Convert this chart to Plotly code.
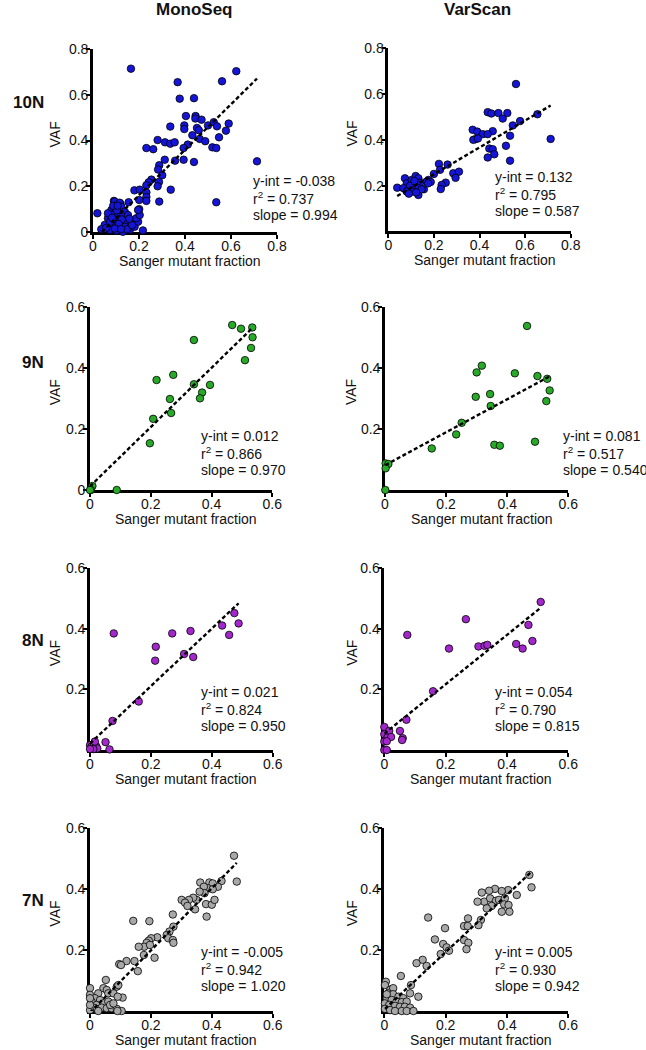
import plotly.graph_objects as go

W, H = 646, 1050
FONT = "Liberation Sans, Arial, sans-serif"

# ---------------- data ----------------
columns = ["MonoSeq", "VarScan"]
rows = ["10N", "9N", "8N", "7N"]

mono10_x = [0.165, 0.623, 0.368, 0.561, 0.377, 0.439, 0.404, 0.446, 0.445, 0.472, 0.336, 0.397, 0.397, 0.452, 0.46,
            0.50, 0.525, 0.539, 0.59, 0.578, 0.432, 0.464, 0.488, 0.548, 0.281, 0.313, 0.336, 0.355, 0.412, 0.394,
            0.519, 0.536, 0.232, 0.262, 0.439, 0.357, 0.394, 0.312, 0.288, 0.283, 0.301, 0.287, 0.281, 0.254, 0.242,
            0.232, 0.338, 0.180, 0.203, 0.232, 0.232, 0.232, 0.288, 0.536, 0.713, 0.091, 0.155, 0.119, 0.201, 0.201,
            0.217, 0.019, 0.094, 0.116, 0.080, 0.097, 0.123, 0.138, 0.087, 0.109, 0.130, 0.152, 0.065, 0.094, 0.116,
            0.145, 0.167, 0.051, 0.080, 0.109, 0.138, 0.036, 0.073, 0.101, 0.130, 0.160, 0.181, 0.196, 0.188, 0.203,
            0.196, 0.065, 0.104, 0.088, 0.125, 0.075, 0.058, 0.112, 0.148, 0.095, 0.170, 0.122, 0.083, 0.158, 0.107]
mono10_y = [0.714, 0.703, 0.655, 0.659, 0.583, 0.585, 0.507, 0.507, 0.496, 0.491, 0.461, 0.466, 0.450, 0.455, 0.445,
            0.466, 0.480, 0.462, 0.474, 0.443, 0.423, 0.407, 0.397, 0.414, 0.402, 0.392, 0.386, 0.392, 0.382, 0.367,
            0.370, 0.367, 0.367, 0.362, 0.306, 0.312, 0.316, 0.316, 0.292, 0.273, 0.248, 0.219, 0.200, 0.229, 0.217,
            0.204, 0.185, 0.182, 0.185, 0.173, 0.153, 0.136, 0.133, 0.130, 0.309, 0.136, 0.130, 0.124, 0.140, 0.100,
            0.007, 0.082, 0.133, 0.128, 0.096, 0.104, 0.111, 0.089, 0.074, 0.082, 0.067, 0.074, 0.060, 0.052, 0.045,
            0.045, 0.045, 0.031, 0.031, 0.023, 0.023, 0.012, 0.009, 0.006, 0.001, 0.009, 0.023, 0.045, 0.060, 0.074,
            0.096, 0.082, 0.095, 0.115, 0.055, 0.045, 0.018, 0.035, 0.012, 0.015, 0.030, 0.013, 0.062, 0.058, 0.115]

var10_x = [0.560, 0.654, 0.578, 0.436, 0.452, 0.483, 0.522, 0.502, 0.546, 0.370, 0.390, 0.458, 0.414, 0.436, 0.382,
           0.373, 0.393, 0.534, 0.712, 0.443, 0.458, 0.516, 0.465, 0.436, 0.534, 0.222, 0.260, 0.227, 0.200, 0.285,
           0.310, 0.295, 0.252, 0.234, 0.230, 0.176, 0.186, 0.156, 0.039, 0.073, 0.081, 0.066, 0.088, 0.103, 0.120,
           0.132, 0.110, 0.125, 0.139, 0.095, 0.117, 0.132, 0.103, 0.132, 0.081, 0.146, 0.168, 0.175, 0.115, 0.090,
           0.122]
var10_y = [0.644, 0.512, 0.482, 0.521, 0.515, 0.517, 0.517, 0.493, 0.463, 0.444, 0.436, 0.438, 0.425, 0.425, 0.403,
           0.400, 0.406, 0.418, 0.404, 0.362, 0.359, 0.374, 0.337, 0.323, 0.309, 0.295, 0.292, 0.269, 0.251, 0.254,
           0.261, 0.234, 0.213, 0.203, 0.185, 0.225, 0.216, 0.184, 0.191, 0.232, 0.210, 0.189, 0.181, 0.225, 0.242,
           0.232, 0.203, 0.210, 0.213, 0.199, 0.184, 0.189, 0.174, 0.159, 0.174, 0.184, 0.218, 0.210, 0.220, 0.165,
           0.170]

mono9_x = [0.468, 0.497, 0.534, 0.535, 0.530, 0.510, 0.342, 0.274, 0.219, 0.342, 0.395, 0.369, 0.362, 0.263, 0.267,
           0.208, 0.197, 0.008, 0.003, 0.0, 0.088]
mono9_y = [0.540, 0.528, 0.532, 0.500, 0.465, 0.425, 0.491, 0.377, 0.360, 0.346, 0.344, 0.319, 0.300, 0.298, 0.252,
           0.233, 0.153, 0.013, 0.0, 0.0, 0.0]

var9_x = [0.465, 0.317, 0.300, 0.425, 0.499, 0.531, 0.539, 0.528, 0.344, 0.297, 0.346, 0.251, 0.233, 0.153, 0.358,
          0.376, 0.491, 0.002, 0.011, 0.002, 0.001]
var9_y = [0.537, 0.407, 0.385, 0.382, 0.373, 0.364, 0.326, 0.291, 0.314, 0.305, 0.275, 0.220, 0.182, 0.136, 0.148,
          0.145, 0.158, 0.087, 0.085, 0.071, 0.0]

mono8_x = [0.474, 0.488, 0.434, 0.457, 0.078, 0.270, 0.330, 0.216, 0.214, 0.309, 0.339, 0.160, 0.074, 0.051, 0.064,
           0.0, 0.005, 0.013, 0.020, 0.024, 0.011, 0.0, 0.016]
mono8_y = [0.452, 0.418, 0.411, 0.380, 0.385, 0.385, 0.393, 0.341, 0.295, 0.317, 0.307, 0.160, 0.096, 0.026, 0.002,
           0.016, 0.011, 0.020, 0.013, 0.005, 0.003, 0.003, 0.028]

var8_x = [0.510, 0.266, 0.470, 0.075, 0.483, 0.430, 0.451, 0.211, 0.307, 0.327, 0.336, 0.159, 0.072, 0.051, 0.060,
          0.058, 0.0, 0.0, 0.016, 0.010, 0.022, 0.0, 0.008, 0.0, 0.008]
var8_y = [0.489, 0.432, 0.413, 0.380, 0.360, 0.350, 0.335, 0.335, 0.342, 0.344, 0.347, 0.194, 0.100, 0.063, 0.039,
          0.033, 0.076, 0.052, 0.063, 0.041, 0.043, 0.028, 0.029, 0.0, 0.0]

mono7_x = [0.473, 0.482, 0.432, 0.420, 0.362, 0.392, 0.403, 0.387, 0.374, 0.403, 0.376, 0.350, 0.339, 0.325, 0.301,
           0.312, 0.320, 0.345, 0.381, 0.400, 0.409, 0.383, 0.360, 0.142, 0.195, 0.272, 0.274, 0.261, 0.252, 0.257,
           0.272, 0.274, 0.221, 0.201, 0.193, 0.186, 0.178, 0.160, 0.197, 0.212, 0.177, 0.146, 0.157, 0.120, 0.096,
           0.102, 0.107, 0.052, 0.0, 0.044, 0.055, 0.060, 0.088, 0.093, 0.077, 0.091, 0.027, 0.0, 0.016, 0.005,
           0.033, 0.044, 0.060, 0.022, 0.011, 0.038, 0.055, 0.071, 0.088, 0.104, 0.0, 0.027, 0.0, 0.0, 0.066,
           0.077, 0.090]
mono7_y = [0.510, 0.425, 0.427, 0.408, 0.422, 0.422, 0.419, 0.403, 0.408, 0.400, 0.387, 0.365, 0.372, 0.365, 0.365,
           0.356, 0.345, 0.334, 0.351, 0.349, 0.365, 0.310, 0.392, 0.296, 0.295, 0.317, 0.277, 0.261, 0.250, 0.239,
           0.233, 0.224, 0.242, 0.239, 0.231, 0.224, 0.211, 0.211, 0.217, 0.175, 0.184, 0.164, 0.131, 0.164, 0.154,
           0.151, 0.044, 0.102, 0.075, 0.075, 0.069, 0.058, 0.080, 0.085, 0.058, 0.047, 0.058, 0.053, 0.042, 0.031,
           0.036, 0.025, 0.031, 0.020, 0.011, 0.011, 0.009, 0.009, 0.007, 0.0, 0.003, 0.0, 0.020, 0.042, 0.020,
           0.025, 0.0]

var7_x = [0.473, 0.480, 0.432, 0.404, 0.383, 0.361, 0.342, 0.318, 0.326, 0.304, 0.345, 0.364, 0.374, 0.393, 0.391,
          0.405, 0.408, 0.383, 0.350, 0.334, 0.315, 0.307, 0.143, 0.198, 0.273, 0.260, 0.272, 0.260, 0.274, 0.268,
          0.165, 0.192, 0.203, 0.211, 0.184, 0.125, 0.105, 0.138, 0.111, 0.087, 0.084, 0.054, 0.005, 0.021, 0.024,
          0.002, 0.019, 0.029, 0.013, 0.029, 0.046, 0.062, 0.008, 0.024, 0.040, 0.057, 0.073, 0.002, 0.016, 0.035,
          0.051, 0.067, 0.084, 0.002, 0.019, 0.035, 0.057, 0.073, 0.095, 0.008]
var7_y = [0.447, 0.406, 0.381, 0.397, 0.394, 0.401, 0.395, 0.389, 0.359, 0.359, 0.370, 0.362, 0.365, 0.370, 0.350,
          0.348, 0.326, 0.326, 0.345, 0.337, 0.299, 0.282, 0.307, 0.272, 0.304, 0.279, 0.279, 0.233, 0.224, 0.203,
          0.235, 0.220, 0.209, 0.198, 0.187, 0.168, 0.157, 0.148, 0.047, 0.085, 0.058, 0.115, 0.096, 0.071, 0.066,
          0.085, 0.069, 0.075, 0.058, 0.055, 0.047, 0.042, 0.042, 0.036, 0.031, 0.029, 0.031, 0.025, 0.020, 0.017,
          0.014, 0.014, 0.011, 0.007, 0.003, 0.0, 0.0, 0.0, 0.0, 0.055]

y_intercepts = [-0.038, 0.132, 0.012, 0.081, 0.021, 0.054, -0.005, 0.005]
r_squared = [0.737, 0.795, 0.866, 0.517, 0.824, 0.790, 0.942, 0.930]
slopes = [0.994, 0.587, 0.970, 0.540, 0.950, 0.815, 1.020, 0.942]

xs = [mono10_x, var10_x, mono9_x, var9_x, mono8_x, var8_x, mono7_x, var7_x]
ys = [mono10_y, var10_y, mono9_y, var9_y, mono8_y, var8_y, mono7_y, var7_y]

# ---------------- styling / layout ----------------
row_colors = ["#1515D8", "#28AA28", "#A228CC", "#A8A8A8"]
axis_max = [0.8, 0.8, 0.6, 0.6, 0.6, 0.6, 0.6, 0.6]
ytick_sets = [[0, 0.2, 0.4, 0.6, 0.8], [0.2, 0.4, 0.6, 0.8], [0, 0.2, 0.4, 0.6], [0.2, 0.4, 0.6],
              [0.2, 0.4, 0.6], [0.2, 0.4, 0.6], [0.2, 0.4, 0.6], [0.2, 0.4, 0.6]]
# pixel boxes of each plotting area: left, right, top, bottom
boxes = [(93, 277, 49, 232), (388.3, 570.7, 48.3, 231.4),
         (90, 272.3, 306.7, 490), (385, 568.3, 306.7, 490),
         (90, 272.7, 568.3, 750), (384.3, 568.3, 568.3, 750),
         (90, 272.7, 828.3, 1011), (384.3, 568.3, 828.3, 1011)]
# stats text: left px, first line center px
stat_pos = [(250.7, 181.5), (492.7, 177), (199.3, 436), (560.7, 436),
            (199.3, 692), (492.7, 692), (199.3, 952), (492.7, 952)]
LINE_STEP = 16.8


def px_x(px):
    return px / W


def px_y(py):
    return 1 - py / H


def fmt(v):
    return "0" if v == 0 else f"{v:.1f}"


fig = go.Figure()
annotations = []

for i in range(8):
    k = i + 1
    xa = "x" if k == 1 else f"x{k}"
    ya = "y" if k == 1 else f"y{k}"
    color = row_colors[i // 2]
    x, y = xs[i], ys[i]

    fig.add_trace(go.Scatter(
        x=x, y=y, mode="markers", xaxis=xa, yaxis=ya, cliponaxis=False,
        marker=dict(size=7.5, color=color, line=dict(color="black", width=0.8)),
        showlegend=False, hoverinfo="x+y"))

    x0, x1 = min(x), max(x)
    fig.add_trace(go.Scatter(
        x=[x0, x1], y=[y_intercepts[i] + slopes[i] * x0, y_intercepts[i] + slopes[i] * x1],
        mode="lines", xaxis=xa, yaxis=ya,
        line=dict(color="black", width=2.4, dash="4px,2.5px"),
        showlegend=False, hoverinfo="skip"))

    l, r, t, b = boxes[i]
    m = axis_max[i]
    xticks = [v / 10 for v in range(0, int(round(m * 10)) + 1, 2)]
    common = dict(showline=True, linewidth=2.6, linecolor="black", ticks="outside", ticklen=4,
                  tickwidth=2, tickcolor="black", showgrid=False, zeroline=False,
                  layer="below traces", tickfont=dict(family=FONT, size=14, color="#111"),
                  fixedrange=True, automargin=False, ticklabelstandoff=-5)
    fig.update_layout(**{
        ("xaxis" if k == 1 else f"xaxis{k}"): dict(
            domain=[px_x(l), px_x(r)], range=[0, m], anchor=ya,
            tickvals=xticks, ticktext=[fmt(v) for v in xticks], **common),
        ("yaxis" if k == 1 else f"yaxis{k}"): dict(
            domain=[px_y(b), px_y(t)], range=[0, m], anchor=xa,
            tickvals=ytick_sets[i], ticktext=[fmt(v) for v in ytick_sets[i]], **common),
    })

    # axis titles
    annotations.append(dict(text="VAF", xref="paper", yref="paper",
                            x=px_x(55 if i % 2 == 0 else 351.7), y=px_y((t + b) / 2 - 6),
                            textangle=-90, showarrow=False, xanchor="center", yanchor="middle",
                            font=dict(family=FONT, size=14, color="#111")))
    annotations.append(dict(text="Sanger mutant fraction", xref="paper", yref="paper",
                            x=px_x((l + r) / 2 + 5), y=px_y(b + 28.5),
                            showarrow=False, xanchor="center", yanchor="middle",
                            font=dict(family=FONT, size=14, color="#111")))

    # fit statistics
    sx, sy = stat_pos[i]
    lines = [f"y-int = {y_intercepts[i]:.3f}",
             f"r<sup>2</sup> = {r_squared[i]:.3f}",
             f"slope = {slopes[i]:.3f}"]
    for j, txt in enumerate(lines):
        annotations.append(dict(text=txt, xref="paper", yref="paper",
                                x=px_x(sx), y=px_y(sy + j * LINE_STEP),
                                showarrow=False, xanchor="left", yanchor="middle",
                                font=dict(family=FONT, size=14, color="#111")))

# column headers
for name, cx in zip(columns, [194, 477]):
    annotations.append(dict(text=f"<b>{name}</b>", xref="paper", yref="paper",
                            x=px_x(cx), y=px_y(10), showarrow=False,
                            xanchor="center", yanchor="middle",
                            font=dict(family=FONT, size=17, color="#111")))

# row labels
for name, cy in zip(rows, [102, 363, 640, 900]):
    annotations.append(dict(text=f"<b>{name}</b>", xref="paper", yref="paper",
                            x=px_x(46), y=px_y(cy), showarrow=False,
                            xanchor="right", yanchor="middle",
                            font=dict(family=FONT, size=17, color="#111")))

fig.update_layout(
    width=W, height=H, margin=dict(l=0, r=0, t=0, b=0, autoexpand=False),
    paper_bgcolor="white", plot_bgcolor="white",
    annotations=annotations, showlegend=False,
)

# place the figure flush with the window's top-left corner, no mode bar
fig.write_html("out.html", config={"displayModeBar": False},
               post_script="document.body.style.margin='0px';")
